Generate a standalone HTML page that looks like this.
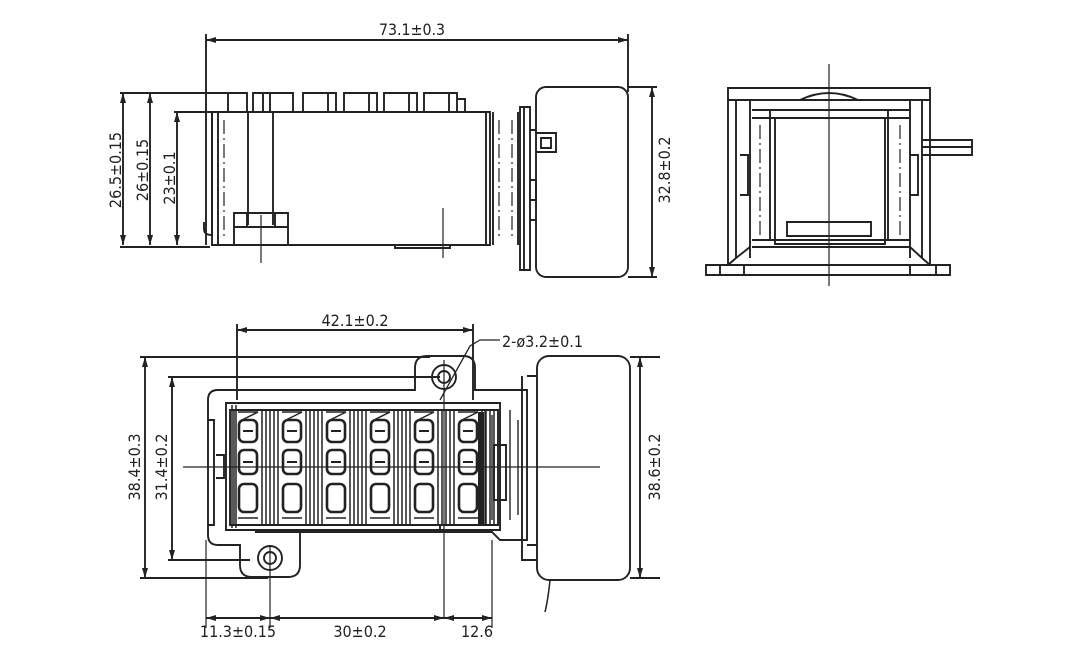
<!DOCTYPE html>
<html><head><meta charset="utf-8"><style>
html,body{margin:0;padding:0;background:#fff;width:1080px;height:660px;overflow:hidden}
svg{display:block}
text{font-family:"DejaVu Sans Condensed","Liberation Sans Narrow","Liberation Sans",sans-serif;font-size:16px;fill:#222}
</style></head><body>
<svg width="1080" height="660" viewBox="0 0 1080 660" xmlns="http://www.w3.org/2000/svg">
<defs>
<marker id="a" viewBox="0 0 10 6" refX="10" refY="3" markerWidth="10" markerHeight="6" orient="auto-start-reverse" markerUnits="userSpaceOnUse"><path d="M0,0 L10,3 L0,6z" fill="#222"/></marker>
</defs>
<g fill="none" stroke="#222" stroke-width="1.9">
<!-- ===== TOP VIEW ===== -->
<line x1="206" y1="40" x2="628" y2="40" marker-start="url(#a)" marker-end="url(#a)"/>
<line x1="206" y1="34" x2="206" y2="245"/>
<line x1="628" y1="34" x2="628" y2="92"/>
<line x1="123" y1="93" x2="123" y2="245" marker-start="url(#a)" marker-end="url(#a)"/>
<line x1="150" y1="93" x2="150" y2="245" marker-start="url(#a)" marker-end="url(#a)"/>
<line x1="177" y1="112" x2="177" y2="245" marker-start="url(#a)" marker-end="url(#a)"/>
<line x1="120" y1="93" x2="230" y2="93"/>
<line x1="120" y1="247" x2="210" y2="247"/>
<line x1="174" y1="112" x2="212" y2="112"/>
<path d="M212 112 H490 V245 H212 Z"/>
<path d="M212 112 V235 q-8 0 -8 -6 V222"/>
<line x1="218" y1="112" x2="218" y2="245"/>
<line x1="248" y1="112" x2="248" y2="225"/>
<line x1="273" y1="112" x2="273" y2="225"/>
<line x1="486" y1="112" x2="486" y2="245"/>
<line x1="493" y1="112" x2="493" y2="245"/>
<line x1="518" y1="112" x2="518" y2="245"/>
<path d="M228 112 V93 H247 V112 M253 112 V93 H262"/>
<path d="M263 112 V93 H293 V112 M270 93 V112"/>
<path d="M303 112 V93 H336 V112 M328 93 V112"/>
<path d="M344 112 V93 H377 V112 M369 93 V112"/>
<path d="M384 112 V93 H417 V112 M409 93 V112"/>
<path d="M424 112 V93 H457 V112 M449 93 V112 M457 99 H465 V112"/>
<path d="M234 245 V213 H288 V245 M234 227 H288 M247 213 v14 M275 213 v14"/>
<line x1="261" y1="215" x2="261" y2="263" stroke-width="1.2"/>
<line x1="443" y1="208" x2="443" y2="258" stroke-width="1.2"/>
<path d="M395 245 v3 H450 v-3"/>
<g stroke-dasharray="14 4 2 4" stroke-width="1.2"><line x1="224" y1="120" x2="224" y2="240"/><line x1="499" y1="120" x2="499" y2="240"/><line x1="512" y1="120" x2="512" y2="240"/></g>
<path d="M520 107 H530 V270 H520 Z M524 107 V270 M530 130 H536 M530 180 H536 V200 H530 M530 220 H536"/>
<path d="M536 133 H556 V152 H536 M541 138 h10 v10 h-10z"/>
<rect x="536" y="87" width="92" height="190" rx="10"/>
<line x1="628" y1="87" x2="657" y2="87"/>
<line x1="628" y1="277" x2="657" y2="277"/>
<line x1="652" y1="87" x2="652" y2="277" marker-start="url(#a)" marker-end="url(#a)"/>

<!-- ===== END VIEW ===== -->
<line x1="829" y1="64" x2="829" y2="286" stroke-width="1.2"/>
<path d="M728 88 H930 V265 H728 Z M728 100 H930"/>
<path d="M736 100 V258 M750 100 V258 M752 110 H910 M752 118 H910 M752 247 H910 M752 240 H910 M770 110 V240 M888 110 V240 M910 100 V258 M922 100 V258"/>
<path d="M775 118 H885 V244 H775 Z"/>
<path d="M787 222 H871 V236 H787 Z"/>
<path d="M800 100 Q829 86 858 100"/>
<path d="M736 258 L728 265 M922 258 L930 265 M750 247 L736 258 M910 247 L922 258"/>
<path d="M706 265 H950 V275 H706 Z M720 265 V275 M936 265 V275 M744 265 V275 M910 265 V275"/>
<path d="M740 155 H748 V195 H740 M910 155 H918 V195 H910"/>
<path d="M922 140 H972 V155 H922 M922 147 H972"/>
<g stroke-dasharray="14 4 2 4" stroke-width="1.2"><line x1="760" y1="125" x2="760" y2="240"/><line x1="900" y1="125" x2="900" y2="240"/></g>

<!-- ===== BOTTOM VIEW ===== -->
<line x1="237" y1="330" x2="473" y2="330" marker-start="url(#a)" marker-end="url(#a)"/>
<line x1="237" y1="324" x2="237" y2="400"/>
<line x1="473" y1="324" x2="473" y2="400"/>
<line x1="145" y1="357" x2="145" y2="578" marker-start="url(#a)" marker-end="url(#a)"/>
<line x1="172" y1="377" x2="172" y2="560" marker-start="url(#a)" marker-end="url(#a)"/>
<line x1="140" y1="357" x2="430" y2="357"/>
<line x1="140" y1="578" x2="268" y2="578"/>
<line x1="168" y1="377" x2="440" y2="377"/>
<line x1="168" y1="560" x2="250" y2="560"/>
<path d="M218 390 H415 V368 q0-12 12-12 H463 q12 0 12 12 V390 H527 V540 H500 l-8 -8 H300 V565 q0 12 -12 12 H252 q-12 0 -12 -12 V545 H218 q-10 0 -10 -10 V400 q0 -10 10 -10 Z"/>
<circle cx="444" cy="377" r="12"/><circle cx="444" cy="377" r="6"/>
<circle cx="270" cy="558" r="12"/><circle cx="270" cy="558" r="6"/>
<path d="M208 420 H214 V525 H208 M216 455 H224 V478 H216"/>
<path d="M226 403 H500 V530 H226 Z M230 410 H498 V525 H230 Z"/>
<path d="M255 525 H440 V532 H255"/>
<path d="M232 405 V528 M236 405 V528" stroke-width="1.5"/>
<line x1="183" y1="467" x2="600" y2="467" stroke-width="1.2"/>
<line x1="444" y1="360" x2="444" y2="618" stroke-width="1.2"/>
<line x1="270" y1="545" x2="270" y2="628" stroke-width="1.2"/>
<line x1="206" y1="540" x2="206" y2="628" stroke-width="1.2"/>
<line x1="492" y1="540" x2="492" y2="628" stroke-width="1.2"/>
<path d="M440 400 L470 346 L480 340 H500" stroke-width="1.3"/>
<line x1="206" y1="618" x2="270" y2="618" marker-start="url(#a)" marker-end="url(#a)"/>
<line x1="270" y1="618" x2="444" y2="618" marker-start="url(#a)" marker-end="url(#a)"/>
<line x1="444" y1="618" x2="492" y2="618" marker-start="url(#a)" marker-end="url(#a)"/>
<path d="M485 410 V525 M492 415 V520 M500 420 V520 M510 410 V520 M518 420 V515" stroke-width="1.4"/>
<path d="M494 445 H506 V500 H494 Z"/>
<rect x="537" y="356" width="93" height="224" rx="12"/>
<path d="M527 376 H537 M527 545 H537 M522 376 V560 H537"/>
<path d="M550 580 Q548 600 545 612" stroke-width="1.5"/>
<line x1="630" y1="357" x2="660" y2="357"/>
<line x1="630" y1="578" x2="660" y2="578"/>
<line x1="640" y1="357" x2="640" y2="578" marker-start="url(#a)" marker-end="url(#a)"/>
</g>
<g fill="none" stroke="#222" stroke-width="2">
<g id="col">
<path d="M234 410 V525 M262 410 V525 M266 410 V525 M274 410 V525 M270 410 V525" stroke-width="1.5"/>
<rect x="239" y="420" width="18" height="22" rx="5" stroke-width="2.6"/>
<rect x="239" y="450" width="18" height="24" rx="5" stroke-width="2.6"/>
<rect x="239" y="484" width="18" height="28" rx="5" stroke-width="2.6"/>
<path d="M243 431 h10 M243 462 h10" stroke-width="2"/>
<path d="M238 412 h20 l-16 8 M238 518 h20" stroke-width="1.5"/>
</g>
<use href="#col" x="44"/><use href="#col" x="88"/><use href="#col" x="132"/><use href="#col" x="176"/><use href="#col" x="220"/>
</g>
<rect x="478" y="412" width="6" height="112" fill="#222"/>
<g>
<text x="412" y="35" text-anchor="middle" textLength="66" lengthAdjust="spacingAndGlyphs">73.1±0.3</text>
<text transform="translate(121 170) rotate(-90)" text-anchor="middle">26.5±0.15</text>
<text transform="translate(148 170) rotate(-90)" text-anchor="middle">26±0.15</text>
<text transform="translate(175 178) rotate(-90)" text-anchor="middle">23±0.1</text>
<text transform="translate(670 170) rotate(-90)" text-anchor="middle">32.8±0.2</text>
<text x="355" y="326" text-anchor="middle">42.1±0.2</text>
<text x="502" y="347">2-ø3.2±0.1</text>
<text transform="translate(140 467) rotate(-90)" text-anchor="middle">38.4±0.3</text>
<text transform="translate(167 467) rotate(-90)" text-anchor="middle">31.4±0.2</text>
<text transform="translate(660 467) rotate(-90)" text-anchor="middle">38.6±0.2</text>
<text x="238" y="637" text-anchor="middle">11.3±0.15</text>
<text x="360" y="637" text-anchor="middle">30±0.2</text>
<text x="477" y="637" text-anchor="middle">12.6</text>
</g>
</svg>
</body></html>
